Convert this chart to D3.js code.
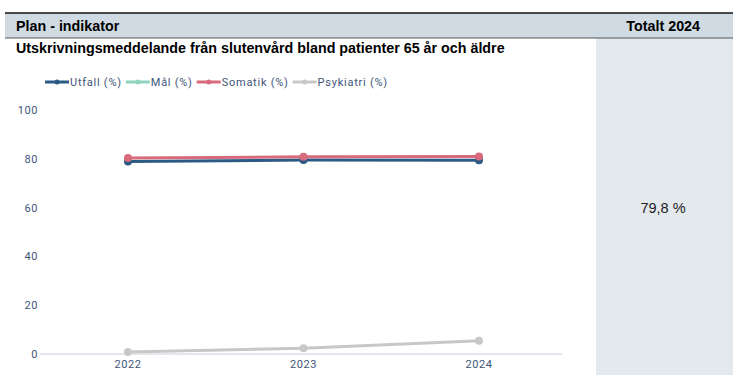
<!DOCTYPE html>
<html>
<head>
<meta charset="utf-8">
<script src="https://cdn.jsdelivr.net/npm/d3@7"></script>
<style>
  body { margin: 0; background: #fff; }
  svg { display: block; }
</style>
</head>
<body>
<div id="chart"></div>
<script>
// data
const years = ['2022', '2023', '2024'];
const utfall = [79.4, 80.0, 79.9];
const mal = [];
const somatik = [80.3, 80.8, 80.9];
const psykiatri = [0.8, 2.4, 5.4];
const yTicks = [0, 20, 40, 60, 80, 100];
const totalLabel = '79,8 %';

const width = 739, height = 375;
const svg = d3.select('#chart').append('svg').attr('width', width).attr('height', height);

// table frame
const tableLeft = 5, tableRight = 733, colLeft = 596;
svg.append('rect').attr('x', colLeft).attr('y', 38).attr('width', tableRight - colLeft).attr('height', height - 38)
    .attr('fill', '#e4e9ee');
svg.append('rect').attr('x', tableLeft).attr('y', 13).attr('width', tableRight - tableLeft).attr('height', 25)
    .attr('fill', '#cfdae2');
svg.append('line').attr('x1', tableLeft).attr('x2', tableRight).attr('y1', 13).attr('y2', 13)
    .attr('stroke', '#111').attr('stroke-width', 1.3);
svg.append('line').attr('x1', tableLeft).attr('x2', tableRight).attr('y1', 38).attr('y2', 38)
    .attr('stroke', '#333').attr('stroke-width', 0.8);

const hdrFont = 'Liberation Sans, Arial, sans-serif';
svg.append('text').attr('x', 16).attr('y', 31).text('Plan - indikator')
    .style('font-family', hdrFont).style('font-weight', 'bold').style('font-size', '14.3px').attr('fill', '#000');
svg.append('text').attr('x', 700).attr('y', 31).attr('text-anchor', 'end').text('Totalt 2024')
    .style('font-family', hdrFont).style('font-weight', 'bold').style('font-size', '14.3px').attr('fill', '#000');
svg.append('text').attr('x', 16).attr('y', 53).text('Utskrivningsmeddelande från slutenvård bland patienter 65 år och äldre')
    .style('font-family', hdrFont).style('font-weight', 'bold').style('font-size', '14.3px').attr('fill', '#000');
svg.append('text').attr('x', 663).attr('y', 213).attr('text-anchor', 'middle').text(totalLabel)
    .style('font-family', hdrFont).style('font-size', '14.5px').attr('fill', '#222');

// chart
const x = d3.scalePoint().domain(years).range([128, 479]);
const y = d3.scaleLinear().domain([0, 100]).range([354, 110]);
const chartFont = 'Roboto, sans-serif';
const axisColor = '#3e5578';

svg.append('line').attr('x1', 40).attr('x2', 562).attr('y1', y(0)).attr('y2', y(0))
    .attr('stroke', '#c5d0dc').attr('stroke-width', 1);

svg.append('g').selectAll('text').data(yTicks).join('text')
    .attr('x', 38).attr('y', d => y(d) + 4).attr('text-anchor', 'end')
    .text(d => d)
    .style('font-family', chartFont).style('font-size', '11px').style('letter-spacing', '0.6px').attr('fill', axisColor);

svg.append('g').selectAll('text').data(years).join('text')
    .attr('x', d => x(d)).attr('y', 368).attr('text-anchor', 'middle')
    .text(d => d)
    .style('font-family', chartFont).style('font-size', '11px').style('letter-spacing', '0.6px').attr('fill', axisColor);

const series = [
    { name: 'Utfall (%)', values: utfall, color: '#2b5a85', dy: 1.2 },
    { name: 'Mål (%)', values: mal, color: '#8fd3bd', dy: 0 },
    { name: 'Somatik (%)', values: somatik, color: '#d76b7c', dy: 0 },
    { name: 'Psykiatri (%)', values: psykiatri, color: '#c8c8c6', dy: 0 }
];

const line = d3.line().x((d, i) => x(years[i])).y(d => y(d));

const plot = svg.append('g').attr('class', 'plot-chart');
for (const s of series) {
    if (!s.values.length) continue;
    const g = plot.append('g').attr('transform', `translate(0,${s.dy})`);
    g.append('path').datum(s.values).attr('d', line)
        .attr('fill', 'none').attr('stroke', s.color).attr('stroke-width', 3);
    g.selectAll('circle').data(s.values).join('circle')
        .attr('cx', (d, i) => x(years[i])).attr('cy', d => y(d)).attr('r', 4)
        .attr('fill', s.color);
}

// legend
let lx = 45;
const ly = 82;
const legend = svg.append('g').attr('class', 'legend');
for (const s of series) {
    const g = legend.append('g').attr('transform', `translate(${lx},${ly})`);
    g.append('line').attr('x1', 0).attr('x2', 24).attr('y1', 0).attr('y2', 0)
        .attr('stroke', s.color).attr('stroke-width', 3);
    g.append('circle').attr('cx', 12).attr('cy', 0).attr('r', 2.5).attr('fill', s.color);
    const t = g.append('text').attr('x', 25).attr('y', 4).text(s.name)
        .style('font-family', chartFont).style('font-size', '11px').style('letter-spacing', '0.75px').attr('fill', axisColor);
    lx += 25 + t.node().getComputedTextLength() + 4;
}
</script>
</body>
</html>
